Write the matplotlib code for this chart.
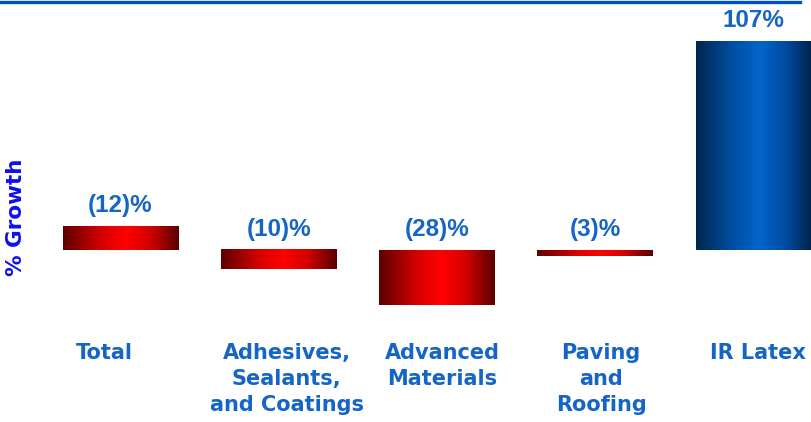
import numpy as np
import matplotlib
matplotlib.use("Agg")
from matplotlib import pyplot as plt
from matplotlib.colors import LinearSegmentedColormap
from matplotlib.lines import Line2D

# data
categories = ["Total", "Adhesives,\nSealants,\nand Coatings", "Advanced\nMaterials",
              "Paving\nand\nRoofing", "IR Latex"]
growth = [-12, -10, -28, -3, 107]
value_labels = ["(12)%", "(10)%", "(28)%", "(3)%", "107%"]

# the reference draws the Total bar above the axis
drawn_up = [True, False, False, False, False]

red_cmap = LinearSegmentedColormap.from_list(
    "red_bar", [(0, "#5e0000"), (0.35, "#dc0000"), (0.55, "#ff0000"),
                (0.75, "#d20000"), (1, "#5a0000")])
blue_cmap = LinearSegmentedColormap.from_list(
    "blue_bar", [(0, "#00264f"), (0.3, "#004c9e"), (0.55, "#0066cc"),
                 (0.8, "#00479a"), (1, "#00234a")])

value_color = "#1565c8"
label_color = "#1565c8"

fig = plt.figure(figsize=(8.12, 4.22), dpi=100)
ax = fig.add_axes([0, 0, 1, 1])
ax.set_xlim(-0.762, 4.371)
ax.set_ylim(-88.1, 128.0)
ax.axis("off")

width = 0.73
grad = np.linspace(0, 1, 256).reshape(1, -1)
for i, v in enumerate(growth):
    h = abs(v) if drawn_up[i] else v
    y0, y1 = min(0, h), max(0, h)
    cmap = blue_cmap if v > 0 else red_cmap
    ax.imshow(grad, cmap=cmap, aspect="auto", interpolation="bilinear",
              extent=(i - width / 2, i + width / 2, y0, y1), zorder=2)
    ax.annotate(value_labels[i], (i, y1), xytext=(0, 15), textcoords="offset points",
                ha="center", va="center", fontsize=17.5, fontweight="bold",
                family="Liberation Sans", color=value_color)

# category labels sit a little off the bar centres in the reference
label_dx = [-16, 8, 5, 6, 5]
for i, cat in enumerate(categories):
    ax.annotate(cat, (i, -47.5), xytext=(label_dx[i] / 1.389, 0), textcoords="offset points",
                ha="center", va="top", multialignment="center", linespacing=1.38,
                fontsize=15, fontweight="bold", family="DejaVu Sans", color=label_color)

fig.text(16 / 812, 1 - 217 / 422, "% Growth", rotation=90, ha="center", va="center",
         fontsize=15.5, fontweight="bold", family="DejaVu Sans", color="#0f0fee")

fig.add_artist(Line2D([0, 800 / 812], [1 - 1.5 / 422] * 2, transform=fig.transFigure,
                      color="#0050c8", linewidth=2.4))

fig.savefig("out.png", dpi=100, facecolor="white")
